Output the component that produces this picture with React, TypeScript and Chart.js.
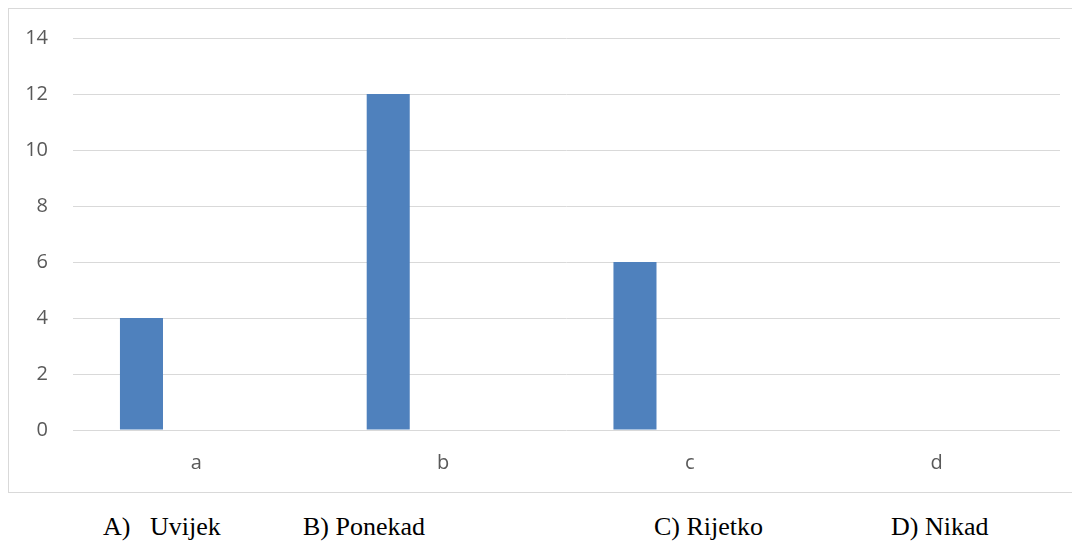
import React, { useEffect, useRef } from "react";
import { Chart, registerables } from "chart.js";

Chart.register(...registerables);

const categories = ["a", "b", "c", "d"];
const seriesValues = [4, 12, 6, 0];
const emptySeries = [null, null, null, null];
const yTicks = { min: 0, max: 14, step: 2 };
const answerLabels = [
  { key: "A)", text: "Uvijek" },
  { key: "B)", text: "Ponekad" },
  { key: "C)", text: "Rijetko" },
  { key: "D)", text: "Nikad" },
];

export default function App() {
  const ref = useRef<HTMLCanvasElement | null>(null);

  useEffect(() => {
    document.documentElement.style.overflow = "hidden";
    if (!ref.current) return;
    const chart = new Chart(ref.current, {
      type: "bar",
      data: {
        labels: categories,
        datasets: [
          {
            label: "Series 1",
            data: seriesValues,
            backgroundColor: "#4F81BD",
            borderWidth: 0,
            categoryPercentage: 0.89,
            barPercentage: 0.392,
          },
          {
            label: "Series 2",
            data: emptySeries as any,
            backgroundColor: "#C0504D",
            borderWidth: 0,
            categoryPercentage: 0.89,
            barPercentage: 0.392,
          },
        ],
      },
      options: {
        animation: false,
        responsive: true,
        maintainAspectRatio: false,
        layout: { padding: { top: 29, right: 12, left: 0, bottom: 0 } },
        plugins: { legend: { display: false }, tooltip: { enabled: false } },
        scales: {
          x: {
            grid: { display: false, drawTicks: false },
            border: { display: false },
            ticks: {
              color: "#595959",
              font: { family: "'Open Sans'", size: 20 },
              padding: 21,
            },
            afterFit: (scale: any) => {
              scale.height = 62;
            },
          },
          y: {
            min: yTicks.min,
            max: yTicks.max,
            grid: { color: "#d9d9d9", lineWidth: 1, drawTicks: false },
            border: { display: false },
            ticks: {
              stepSize: yTicks.step,
              color: "#595959",
              font: { family: "'Open Sans'", size: 20 },
              padding: 25,
            },
            afterFit: (scale: any) => {
              scale.width = 64;
              scale.paddingTop = 0;
              scale.paddingBottom = 0;
            },
          },
        },
      },
    });
    return () => chart.destroy();
  }, []);

  const labelPos = [
    { keyX: 103, textX: 150 },
    { keyX: 303, textX: null },
    { keyX: 654, textX: null },
    { keyX: 891, textX: null },
  ];

  const textStyle: React.CSSProperties = {
    position: "absolute",
    top: 514,
    fontFamily: "'Liberation Serif', 'Times New Roman', serif",
    fontSize: 26,
    lineHeight: "26px",
    color: "#000",
    whiteSpace: "pre",
  };

  return (
    <div>
      <div
        style={{
          width: 1063,
          height: 483,
          borderLeft: "1px solid #d9d9d9",
          borderTop: "1px solid #d9d9d9",
          borderBottom: "1px solid #d9d9d9",
          position: "relative",
        }}
      >
        <canvas ref={ref} />
      </div>
      {answerLabels.map((l, i) => {
        const p = labelPos[i];
        if (p.textX !== null) {
          return (
            <React.Fragment key={l.key}>
              <span style={{ ...textStyle, left: p.keyX }}>{l.key}</span>
              <span style={{ ...textStyle, left: p.textX }}>{l.text}</span>
            </React.Fragment>
          );
        }
        return (
          <span key={l.key} style={{ ...textStyle, left: p.keyX }}>
            {l.key + " " + l.text}
          </span>
        );
      })}
    </div>
  );
}
